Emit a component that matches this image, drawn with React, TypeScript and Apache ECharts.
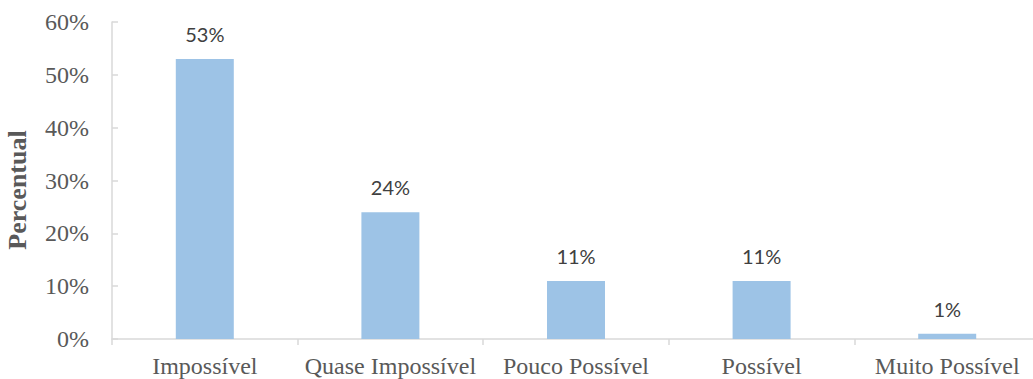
import React, { useEffect, useRef } from "react";
import * as echarts from "echarts";

const categories = ["Impossível", "Quase Impossível", "Pouco Possível", "Possível", "Muito Possível"];
const values = [53, 24, 11, 11, 1];
const yTicks = [0, 10, 20, 30, 40, 50, 60];
const yTitle = "Percentual";

const SERIF = "'Liberation Serif', 'Times New Roman', serif";

export default function App() {
  const ref = useRef<HTMLDivElement>(null);
  useEffect(() => {
    if (!ref.current) return;
    const chart = echarts.init(ref.current, null, { renderer: "svg" });
    chart.setOption({
      animation: false,
      backgroundColor: "#ffffff",
      grid: { left: 112, top: 22, bottom: 40, width: 928, outerBoundsMode: "none", containLabel: false },
      graphic: [
        {
          type: "text",
          x: 17,
          y: 190,
          rotation: Math.PI / 2,
          style: {
            text: yTitle,
            fontFamily: SERIF,
            fontWeight: "bold",
            fontSize: 26,
            fill: "#595959",
            align: "center",
            verticalAlign: "middle",
          },
        },
      ],
      xAxis: {
        type: "category",
        data: categories,
        axisLine: { lineStyle: { color: "#d9d9d9", width: 1.5 } },
        axisTick: { show: true, length: 6, alignWithLabel: false, lineStyle: { color: "#d9d9d9", width: 1.5 } },
        axisLabel: {
          color: "#595959",
          fontFamily: SERIF,
          fontSize: 24,
          margin: 15,
          interval: 0,
        },
      },
      yAxis: {
        type: "value",
        min: yTicks[0],
        max: yTicks[yTicks.length - 1],
        interval: 10,
        splitLine: { show: false },
        axisLine: { show: true, lineStyle: { color: "#d9d9d9", width: 1.5 } },
        axisTick: { show: true, inside: true, length: 6, lineStyle: { color: "#d9d9d9", width: 1.5 } },
        axisLabel: {
          color: "#595959",
          fontFamily: SERIF,
          fontSize: 24,
          margin: 23,
          formatter: (v: number) => v + "%",
        },
      },
      series: [
        {
          type: "bar",
          data: values,
          barWidth: 58,
          itemStyle: { color: "#9dc3e6" },
          label: {
            show: true,
            position: "top",
            distance: 15,
            color: "#404040",
            fontFamily: "Lato",
            fontSize: 20,
            formatter: (p: any) => p.value + "%",
          },
        },
      ],
    });
    return () => chart.dispose();
  }, []);
  return (
    <div
      ref={ref}
      style={{ position: "fixed", left: 0, top: 0, width: 1033, height: 379 }}
    />
  );
}
